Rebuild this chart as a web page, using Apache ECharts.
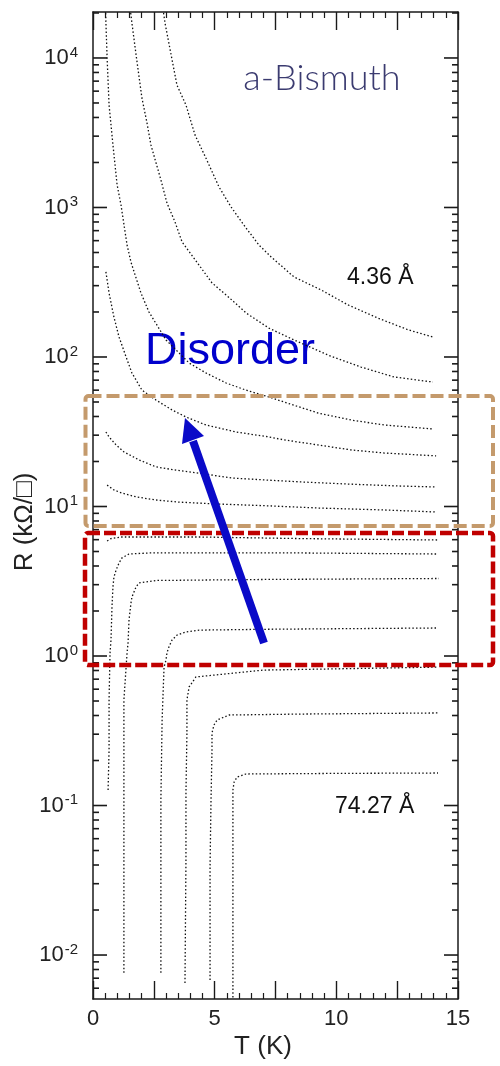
<!DOCTYPE html>
<html>
<head>
<meta charset="utf-8">
<script src="https://cdn.jsdelivr.net/npm/echarts@6/dist/echarts.min.js"></script>
<style>
  html, body { margin: 0; padding: 0; background: #fff; }
  #chart { width: 500px; height: 1066px; }
</style>
</head>
<body>
<div id="chart"></div>
<script>
// sheet resistance R (kOhm/sq) vs temperature T (K)
// insulating films, thinnest first
const film1T = [2.9, 2.96, 3.21, 3.45, 3.82, 4.19, 4.64, 5.18, 5.67, 6.29, 6.82, 7.32, 8.26, 9.37, 10.48, 11.71, 12.95, 13.97]
const film1R = [20000, 17100, 10500, 6590, 4850, 3060, 2140, 1370, 1010, 729, 561, 467, 343, 281, 223, 182, 152, 136]

const film2T = [1.55, 1.6, 1.77, 2.01, 2.22, 2.38, 2.59, 2.79, 3.04, 3.37, 3.66, 4.27, 4.89, 5.59, 6.29, 7.23, 8.26, 9.66, 11.01, 12.37, 13.97]
const film2R = [20000, 17100, 10500, 5400, 3670, 2620, 1990, 1530, 1070, 800, 588, 431, 313, 250, 197, 156, 130, 103, 85.7, 73.5, 68]

const film3T = [0.52, 0.53, 0.58, 0.66, 0.82, 0.99, 1.15, 1.4, 1.56, 1.97, 2.3, 3.0, 3.95, 4.64, 5.47, 6.29, 7.23, 7.85, 9.25, 10.6, 11.96, 13.97]
const film3R = [20000, 17400, 10000, 4850, 2620, 1420, 1040, 561, 431, 268, 200, 130, 91.2, 78.2, 67, 60, 54, 50, 42.2, 37.9, 35.1, 33]

const film4T = [0.53, 0.66, 0.86, 1.07, 1.36, 1.6, 2.01, 2.59, 3.25, 3.82, 4.64, 5.88, 7.23, 7.85, 9.25, 10.6, 11.96, 14.1]
const film4R = [371, 268, 185, 136, 100, 78.2, 60.1, 51.5, 44.2, 39.7, 35.1, 31.5, 29.2, 27.9, 25.8, 23.9, 22.8, 21.8]

const film5T = [0.53, 0.66, 0.95, 1.27, 1.89, 2.59, 3.41, 4.36, 5.71, 7.23, 8.55, 10.6, 12.66, 14.1]
const film5R = [31.5, 29.2, 25.8, 23.2, 20.5, 18.4, 17.5, 16.7, 15.5, 15.0, 14.6, 14.1, 13.7, 13.5]

const film6T = [0.58, 0.86, 1.19, 1.77, 2.59, 3.53, 5.06, 7.23, 9.25, 11.96, 14.1]
const film6R = [13.9, 12.9, 12.3, 11.6, 11.05, 10.7, 10.4, 10.1, 9.77, 9.48, 9.19]

// superconducting films
const film7T = [0.58, 0.74, 1.15, 4.44, 8.55, 14.18]
const film7R = [5.88, 6.1, 6.25, 6.25, 6.1, 5.97]

const film8T = [0.62, 0.66, 0.66, 0.7, 0.74, 0.78, 0.82, 0.86, 0.95, 1.07, 1.19, 1.48, 2.3, 4.44, 8.55, 14.18]
const film8R = [0.127, 0.235, 0.508, 1.05, 1.28, 2.13, 2.9, 3.37, 3.76, 4.19, 4.53, 4.81, 4.89, 4.89, 4.89, 4.81]

const film9T = [1.27, 1.27, 1.27, 1.27, 1.4, 1.44, 1.48, 1.56, 1.6, 1.77, 1.89, 2.59, 7.0, 14.22]
const film9R = [0.0076, 0.05, 0.148, 0.508, 1.05, 1.22, 1.74, 2.26, 2.48, 2.9, 3.08, 3.2, 3.25, 3.3]

const film10T = [2.79, 2.79, 2.84, 2.92, 3.0, 3.04, 3.12, 3.25, 3.45, 3.82, 4.36, 7.23, 14.18]
const film10R = [0.0076, 0.109, 0.373, 0.843, 0.94, 1.05, 1.15, 1.28, 1.38, 1.45, 1.49, 1.51, 1.54]

const film11T = [3.78, 3.82, 3.82, 3.86, 3.86, 3.95, 4.23, 7.0, 14.18]
const film11R = [0.0065, 0.0431, 0.121, 0.305, 0.508, 0.621, 0.724, 0.805, 0.843]

const film12T = [4.81, 4.81, 4.85, 4.89, 4.89, 4.97, 5.1, 5.59, 8.55, 14.18]
const film12R = [0.0068, 0.0388, 0.109, 0.235, 0.305, 0.345, 0.373, 0.403, 0.409, 0.416]

const film13T = [5.75, 5.75, 5.75, 5.75, 5.8, 5.92, 6.29, 10.0, 14.18]
const film13R = [0.0052, 0.0233, 0.0655, 0.127, 0.1436, 0.155, 0.1625, 0.164, 0.165]

const films = [
  [film1T, film1R], [film2T, film2R], [film3T, film3R], [film4T, film4R],
  [film5T, film5R], [film6T, film6R], [film7T, film7R], [film8T, film8R],
  [film9T, film9R], [film10T, film10R], [film11T, film11R], [film12T, film12R],
  [film13T, film13R]
]

const xMin = 0
const xMax = 15
const yMin = 0.00508
const yMax = 20300

// decade ticks and 2..9 x 10^n minor ticks on the log axis
const decadeTicks = [0.01, 0.1, 1, 10, 100, 1000, 10000]
const minorTickValues = []
for (let e = -3; e <= 4; e++) {
  for (let k = 2; k <= 9; k++) {
    const v = k * Math.pow(10, e)
    if (v > yMin && v < yMax) minorTickValues.push(v)
  }
}

const axisColor = '#1a1a1a'

const powLabel = (value) => {
  const e = Math.round(Math.log10(value))
  if (Math.abs(Math.log10(value) - e) > 1e-6) return ''
  return '{b|10}{s|' + e + '}'
}

const chart = echarts.init(document.getElementById('chart'))

const xAxisBase = {
  type: 'value',
  min: xMin,
  max: xMax,
  interval: 2.5,
  axisLine: { onZero: false, lineStyle: { color: axisColor, width: 1.5 } },
  axisTick: { inside: true, length: 18, lineStyle: { color: axisColor, width: 1.4 } },
  minorTick: { show: true, splitNumber: 5, length: 6, lineStyle: { color: axisColor, width: 1.2 } },
  splitLine: { show: false },
  minorSplitLine: { show: false }
}

const yAxisBase = {
  type: 'log',
  logBase: 10,
  min: yMin,
  max: yMax,
  axisLine: { show: true, onZero: false, lineStyle: { color: axisColor, width: 1.5 } },
  axisTick: { show: false },
  splitLine: { show: false }
}

const annotations = [
  {
    type: 'text', x: 322, y: 78,
    style: { text: 'a-Bismuth', fill: '#3b3b70', font: '300 36px Lato, "Open Sans", sans-serif', textAlign: 'center', textVerticalAlign: 'middle' }
  },
  {
    type: 'text', x: 347, y: 278,
    style: { text: '4.36 Å', fill: '#111', font: '23px "Liberation Sans", sans-serif', textAlign: 'left', textVerticalAlign: 'middle' }
  },
  {
    type: 'text', x: 335, y: 807,
    style: { text: '74.27 Å', fill: '#111', font: '23px "Liberation Sans", sans-serif', textAlign: 'left', textVerticalAlign: 'middle' }
  },
  {
    type: 'text', x: 145, y: 352,
    style: { text: 'Disorder', fill: '#0000cc', font: '45px "Liberation Sans", sans-serif', textAlign: 'left', textVerticalAlign: 'middle' }
  },
  {
    type: 'text', x: 25, y: 522, rotation: Math.PI / 2,
    style: { text: 'R (kΩ/□)', fill: '#222', font: '26px "Liberation Sans", "DejaVu Sans", sans-serif', textAlign: 'center', textVerticalAlign: 'middle' }
  },
  {
    type: 'text', x: 263, y: 1047,
    style: { text: 'T (K)', fill: '#222', font: '26px "Liberation Sans", sans-serif', textAlign: 'center', textVerticalAlign: 'middle' }
  },
  {
    type: 'rect', z: 10,
    shape: { x: 85.5, y: 396, width: 407.5, height: 130, r: 3 },
    style: { fill: 'none', stroke: '#c49a6c', lineWidth: 4, lineDash: [13, 5] }
  },
  {
    type: 'rect', z: 10,
    shape: { x: 85, y: 533, width: 408, height: 132, r: 3 },
    style: { fill: 'none', stroke: '#c00000', lineWidth: 4.5, lineDash: [12, 4] }
  },
  {
    type: 'line', z: 11,
    shape: { x1: 264, y1: 643, x2: 193, y2: 441 },
    style: { stroke: '#0a0ac8', lineWidth: 8 }
  },
  {
    type: 'polygon', z: 11,
    shape: { points: [[185, 418], [204, 436], [182, 444]] },
    style: { fill: '#0a0ac8' }
  }
]

const option = {
  animation: false,
  backgroundColor: '#fff',
  grid: { left: 93, right: 42, top: 12, bottom: 67 },
  xAxis: [
    {
      ...xAxisBase,
      position: 'bottom',
      axisLabel: {
        margin: 9,
        color: '#222',
        fontSize: 22,
        fontFamily: 'Liberation Sans',
        formatter: (v) => (v % 5 === 0 ? String(v) : '')
      }
    },
    { ...xAxisBase, position: 'top', axisLabel: { show: false } }
  ],
  yAxis: [
    {
      ...yAxisBase,
      position: 'left',
      axisLabel: {
        margin: 15,
        color: '#222',
        formatter: powLabel,
        rich: {
          b: { fontSize: 22, fontFamily: 'Liberation Sans', color: '#222' },
          s: { fontSize: 15, fontFamily: 'Liberation Sans', color: '#222', padding: [0, 0, 11, 1] }
        }
      }
    },
    { ...yAxisBase, position: 'right', axisLabel: { show: false } }
  ],
  series: films.map(([ts, rs]) => ({
    type: 'line',
    xAxisIndex: 0,
    yAxisIndex: 0,
    data: ts.map((t, i) => [t, rs[i]]),
    symbol: 'none',
    smooth: false,
    lineStyle: { color: '#111', width: 1.3, type: [1.5, 2.2] },
    silent: true
  })),
  graphic: { elements: annotations }
}

chart.setOption(option)

// y ticks on both sides, placed through the log axis scale
const xL = chart.convertToPixel({ xAxisIndex: 0 }, xMin)
const xR = chart.convertToPixel({ xAxisIndex: 0 }, xMax)
const tickStyle = { stroke: axisColor, lineWidth: 1.6 }
const tickEls = []
const addTick = (v, len) => {
  const y = chart.convertToPixel({ yAxisIndex: 0 }, v)
  tickEls.push({ type: 'line', z: 5, shape: { x1: xL, y1: y, x2: xL + len, y2: y }, style: tickStyle })
  tickEls.push({ type: 'line', z: 5, shape: { x1: xR - len, y1: y, x2: xR, y2: y }, style: tickStyle })
}
decadeTicks.forEach((v) => addTick(v, 14))
minorTickValues.forEach((v) => addTick(v, 6))

chart.setOption({ graphic: { elements: annotations.concat(tickEls) } })
</script>
</body>
</html>
